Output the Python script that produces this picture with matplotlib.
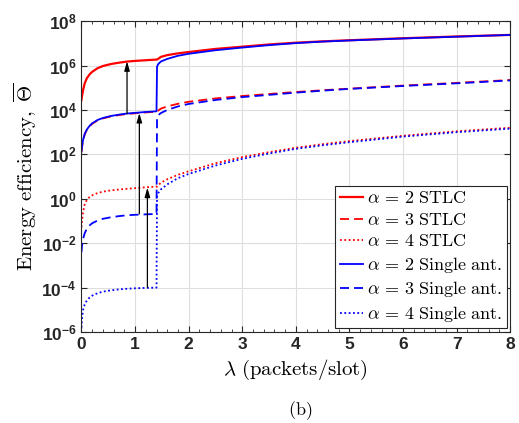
"""Eficiência energética vs lambda: STLC x antena única."""

import matplotlib
matplotlib.use("Agg")
import matplotlib.pyplot as plt
from matplotlib.ticker import FixedLocator, FuncFormatter, MultipleLocator
import numpy as np

plt.rcParams["font.family"] = "Liberation Sans"
plt.rcParams["mathtext.fontset"] = "custom"
plt.rcParams["mathtext.rm"] = "Liberation Sans:bold"
plt.rcParams["mathtext.bf"] = "Liberation Sans:bold"

# valores (log10 de Theta)
lam_pre = [0, 0.01, 0.03, 0.06, 0.1, 0.15, 0.2, 0.3, 0.4, 0.55, 0.7, 0.85, 1.0, 1.2, 1.40]
lam_post = [1.41, 1.43, 1.48, 1.6, 1.8, 2.0, 2.5, 3.0, 3.5, 4, 4.5, 5, 6, 7, 8]

stlc2_pre = [4.45, 4.62, 4.9, 5.2, 5.43, 5.6, 5.72, 5.88, 5.98, 6.07, 6.13, 6.18, 6.21, 6.24, 6.27]
stlc2_post = [6.27, 6.3, 6.39, 6.47, 6.55, 6.61, 6.75, 6.85, 6.95, 7.03, 7.09, 7.14, 7.23, 7.31, 7.38]

single2_pre = [2.13, 2.35, 2.66, 2.92, 3.12, 3.28, 3.4, 3.55, 3.64, 3.73, 3.79, 3.84, 3.87, 3.91, 3.94]
single2_post = [5.95, 6.06, 6.18, 6.3, 6.44, 6.53, 6.69, 6.81, 6.92, 7.01, 7.08, 7.13, 7.22, 7.3, 7.38]

stlc3_pre = [2.11, 2.33, 2.64, 2.9, 3.1, 3.26, 3.38, 3.53, 3.62, 3.71, 3.77, 3.82, 3.85, 3.89, 3.92]
stlc3_post = [3.93, 3.97, 4.06, 4.16, 4.28, 4.37, 4.52, 4.63, 4.72, 4.81, 4.89, 4.96, 5.1, 5.22, 5.35]

single3_pre = [-2.4, -2.1, -1.8, -1.55, -1.35, -1.2, -1.1, -0.98, -0.9, -0.83, -0.78, -0.74, -0.72, -0.7, -0.68]
single3_post = [3.7, 3.76, 3.86, 4.0, 4.16, 4.27, 4.45, 4.58, 4.68, 4.78, 4.87, 4.95, 5.08, 5.2, 5.33]

stlc4_pre = [-1.28, -1.0, -0.6, -0.25, -0.05, 0.08, 0.16, 0.26, 0.32, 0.38, 0.42, 0.45, 0.48, 0.52, 0.55]
stlc4_post = [0.55, 0.6, 0.72, 0.88, 1.08, 1.24, 1.6, 1.88, 2.1, 2.3, 2.46, 2.6, 2.84, 3.04, 3.2]

single4_pre = [-5.8, -5.4, -5.0, -4.75, -4.58, -4.45, -4.36, -4.25, -4.18, -4.12, -4.08, -4.05, -4.03, -4.01, -4.0]
single4_post = [0.1, 0.25, 0.42, 0.65, 0.93, 1.12, 1.5, 1.8, 2.04, 2.25, 2.41, 2.55, 2.8, 3.0, 3.16]

# setas: (lambda, log10 base, log10 topo)
arrow_lam = [0.85, 1.08, 1.23]
arrow_lo = [3.84, -0.68, -4.0]
arrow_hi = [6.19, 3.86, 0.5]

DASH = (0, (5, 2.8))
DOT = (0, (1, 1.4))

series = [
    (r"$\alpha\, =\, 2\ \mathrm{STLC}$", stlc2_pre, stlc2_post, "red", "-"),
    (r"$\alpha\, =\, 3\ \mathrm{STLC}$", stlc3_pre, stlc3_post, "red", DASH),
    (r"$\alpha\, =\, 4\ \mathrm{STLC}$", stlc4_pre, stlc4_post, "red", DOT),
    (r"$\alpha\, =\, 2\ \mathrm{Single\ ant.}$", single2_pre, single2_post, "blue", "-"),
    (r"$\alpha\, =\, 3\ \mathrm{Single\ ant.}$", single3_pre, single3_post, "blue", DASH),
    (r"$\alpha\, =\, 4\ \mathrm{Single\ ant.}$", single4_pre, single4_post, "blue", DOT),
]

fig = plt.figure(figsize=(5.19, 4.23), dpi=100)
ax = fig.add_axes([0.157, 0.215, 0.826, 0.735])

for label, pre, post, color, ls in series:
    lam = lam_pre + lam_post
    y = 10.0 ** np.array(pre + post)
    lw = 1.6 if (color == "red" and ls == "-") else 1.3
    ax.plot(lam, y, color=color, ls=ls, lw=lw, label=label)

for x, lo, hi in zip(arrow_lam, arrow_lo, arrow_hi):
    ax.annotate(
        "", xy=(x, 10.0 ** hi), xytext=(x, 10.0 ** lo),
        arrowprops=dict(arrowstyle="-|>,head_length=0.55,head_width=0.16",
                        color="black", lw=0.9, shrinkA=0, shrinkB=0),
    )

ax.set_yscale("log")
ax.set_xlim(0, 8)
ax.set_ylim(1e-6, 1e8)
ax.yaxis.set_major_locator(FixedLocator([10.0 ** k for k in range(-6, 9, 2)]))
ax.yaxis.set_minor_locator(FixedLocator([]))
ax.yaxis.set_major_formatter(
    FuncFormatter(lambda v, p: r"$\mathbf{10^{%d}}$" % round(np.log10(v)))
)
ax.xaxis.set_major_locator(MultipleLocator(1))
ax.xaxis.set_minor_locator(MultipleLocator(0.2))

ax.grid(True, which="major", color="#dedede", lw=0.8)
ax.set_axisbelow(True)
ax.tick_params(which="both", direction="in", top=True, right=True,
               colors="#262626", labelsize=12.5)
ax.tick_params(which="major", length=4, width=0.8)
ax.tick_params(which="minor", length=2, width=0.6)
for t in ax.get_xticklabels():
    t.set_fontweight("bold")
for s in ax.spines.values():
    s.set_color("#262626")
    s.set_linewidth(0.8)

ax.set_xlabel(r"$\lambda\ \mathrm{(packets/slot)}$", fontsize=15,
              math_fontfamily="cm", labelpad=4)
ax.set_ylabel(r"$\mathrm{Energy\ efficiency,}\ \overline{\Theta}$", fontsize=15,
              math_fontfamily="cm", labelpad=2)

leg = ax.legend(loc="lower right", fontsize=13, fancybox=False,
                edgecolor="#262626", framealpha=1, borderaxespad=0.2,
                handlelength=1.3, handletextpad=0.2, labelspacing=0.25,
                borderpad=0.25)
leg.get_frame().set_linewidth(0.8)
for t in leg.get_texts():
    t.set_math_fontfamily("cm")

fig.text(0.578, 0.03, r"$\mathrm{(b)}$", fontsize=13, ha="center", va="center",
         math_fontfamily="cm")

fig.savefig("out.png", dpi=100)
